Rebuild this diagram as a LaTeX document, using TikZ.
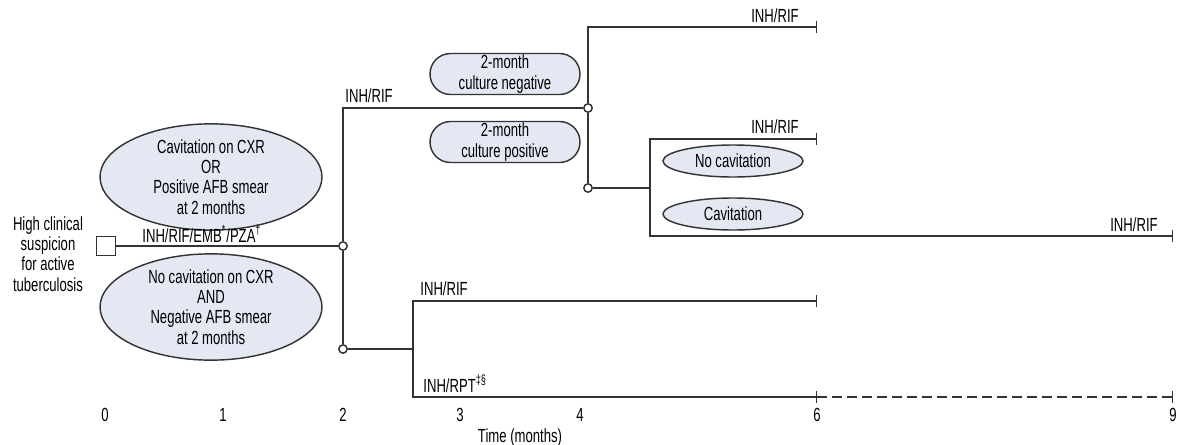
\documentclass[tikz,border=0pt]{standalone}
\usepackage{fontspec}
\setmainfont{Liberation Sans}[FakeStretch=0.69]
\usepackage{tikz}
\usetikzlibrary{arrows.meta,shapes.geometric,shapes.misc}

\definecolor{cellfill}{HTML}{E3E8F2}
\definecolor{ink}{HTML}{333333}

\begin{document}
\begin{tikzpicture}[x=0.5pt,y=-0.5pt, every node/.style={font=\fontsize{9.5}{10.2}\selectfont,text=black,align=center,inner sep=0pt}, ln/.style={draw=ink,line width=.72pt}, endbar/.style={ln,-{Bar[width=6pt,line width=.72pt]}}, oval/.style={ellipse,draw=ink,line width=.72pt,fill=cellfill}, pill/.style={rounded rectangle,draw=ink,line width=.72pt,fill=cellfill,minimum width=75pt,minimum height=20.5pt}, dot/.style={circle,draw=ink,line width=.72pt,fill=white,minimum size=4.2pt}]
\useasboundingbox (0,0) rectangle (1180,445);
% decision square and the chance nodes
\node[draw=ink,line width=.72pt,fill=white,minimum size=9.5pt] (start) at (106,246) {};
\node (susp) at (48,254) {High clinical\\suspicion\\for active\\tuberculosis};
\node[dot] (c1) at (343,246) {};
\node[dot] (c2) at (343,349) {};
\node[dot] (c3) at (588,108) {};
\node[dot] (c4) at (588,188) {};
\coordinate (j2) at (413,349);
\coordinate (j3) at (650,188);
\coordinate (e1) at (817,27);
\coordinate (e2) at (817,139);
\coordinate (e3) at (1173,236);
\coordinate (e4) at (817,301);
\coordinate (e5) at (817,397);
\coordinate (e6) at (1173,397);
% branch conditions
\node[oval,minimum width=111pt,minimum height=45pt] (pos) at (211,177) {Cavitation on CXR\\OR\\Positive AFB smear\\at 2 months};
\node[oval,minimum width=111pt,minimum height=45pt] (neg) at (211,307) {No cavitation on CXR\\AND\\Negative AFB smear\\at 2 months};
\node[pill] (cneg) at (505,74) {2-month\\culture negative};
\node[pill] (cpos) at (505,142) {2-month\\culture positive};
\node[oval,minimum width=70pt,minimum height=16pt] (nocav) at (733,161) {No cavitation};
\node[oval,minimum width=70pt,minimum height=16pt] (cav) at (733,214) {Cavitation};
% tree branches
\draw[ln] (start) -- (c1);
\draw[ln] (c1) |- (c3);
\draw[ln] (c1) -- (c2);
\draw[endbar] (c3) |- (e1);
\draw[ln] (c3) -- (c4);
\draw[ln] (c4) -- (j3);
\draw[endbar] (j3) |- (e2);
\draw[endbar] (j3) |- (e3);
\draw[ln] (c2) -- (j2);
\draw[endbar] (j2) |- (e4);
\draw[endbar] (j2) |- (e5);
\draw[endbar,dash pattern=on 5pt off 2.5pt] (e5) -- (e6);
% regimens, set on their baselines just above the branches
\node[anchor=base] (r0) at (202,242) {INH/RIF/EMB\textsuperscript{*}/PZA\textsuperscript{†}};
\node[anchor=base west] (r1) at (345,102) {INH/RIF};
\node[anchor=base] (r2) at (775,22) {INH/RIF};
\node[anchor=base] (r3) at (775,133) {INH/RIF};
\node[anchor=base] (r4) at (1134,231) {INH/RIF};
\node[anchor=base west] (r5) at (420,295) {INH/RIF};
\node[anchor=base west] (r6) at (423,392) {INH/RPT\textsuperscript{‡§}};
% time axis
\foreach \m/\px in {0/105,1/223,2/343,3/460,4/580,6/817,9/1173}
  \node (t\m) at (\px,415) {\m};
\node (tlab) at (520,438) {Time (months)};
\end{tikzpicture}
\end{document}
